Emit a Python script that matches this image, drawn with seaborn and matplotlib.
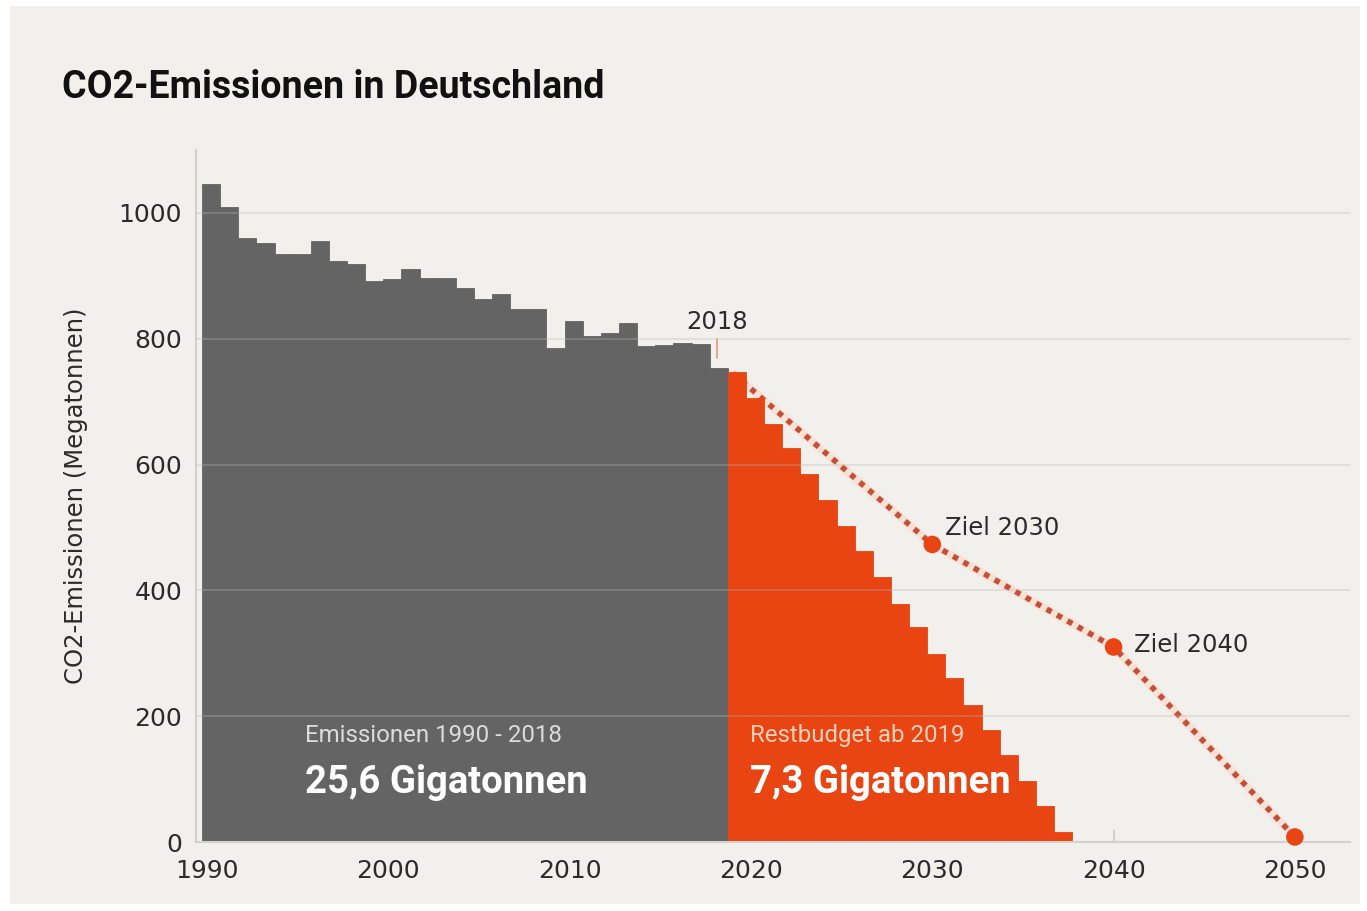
import numpy as np
import pandas as pd
import matplotlib
matplotlib.use("Agg")
import matplotlib.pyplot as plt
from matplotlib.patches import Rectangle
import seaborn as sns

# ---------------- data ----------------
years_hist = list(range(1990, 2019))
emis_hist = [1046, 1010, 960, 952, 935, 935, 955, 924, 919, 892,
             895, 911, 896, 896, 881, 863, 871, 847, 847, 785,
             828, 804, 809, 825, 788, 790, 793, 791, 753]
years_budget = list(range(2019, 2038))
emis_budget = [747, 705, 664, 626, 585, 543, 503, 463, 422, 379,
               341, 299, 260, 218, 178, 138, 97, 57, 16]
target_years = [2019, 2030, 2040, 2050]
target_values = [745, 473, 310, 8]
target_labels = ["", "Ziel 2030", "Ziel 2040", ""]
xtick_years = [1990, 2000, 2010, 2020, 2030, 2040, 2050]
ytick_values = [0, 200, 400, 600, 800, 1000]
title = "CO2-Emissionen in Deutschland"
ylabel = "CO2-Emissionen (Megatonnen)"
hist_small, hist_big = "Emissionen 1990 - 2018", "25,6 Gigatonnen"
budget_small, budget_big = "Restbudget ab 2019", "7,3 Gigatonnen"
marker_year = 2018

# ---------------- style ----------------
BG = "#f1f0ec"
GRAY = "#646464"
ORANGE = "#e84513"
DOT = "#c44f3b"
HALO = "#f9e1d4"
TXT = "#2b2b2b"
COND = ["Roboto", "DejaVu Sans"]
REG = ["DejaVu Sans"]

sns.set_theme(style="white")
plt.rcParams["font.family"] = REG

fig = plt.figure(figsize=(13.67, 9.11), dpi=100, facecolor="white")
fig.patches.append(Rectangle((10 / 1367, 7 / 911), 1350 / 1367, 898 / 911,
                             transform=fig.transFigure, facecolor=BG,
                             edgecolor="none", zorder=-10))
ax = fig.add_axes([196 / 1367, (911 - 842) / 911, 1154 / 1367, 692 / 911])
ax.set_facecolor("none")

df = pd.DataFrame({
    "year": years_hist + years_budget,
    "value": emis_hist + emis_budget,
    "group": ["hist"] * len(years_hist) + ["budget"] * len(years_budget),
})
df["xc"] = df["year"] + 0.22

sns.barplot(data=df, x="xc", y="value", hue="group",
            palette={"hist": GRAY, "budget": ORANGE},
            native_scale=True, width=1.0, dodge=False, saturation=1,
            legend=False, linewidth=0, ax=ax, zorder=1)
for p in ax.patches:
    p.set_edgecolor(p.get_facecolor())
    p.set_linewidth(0.6)

# gridlines on top of bars
for v in ytick_values[1:]:
    ax.axhline(v, color="#b8b8b8", alpha=0.3, lw=1.4, zorder=1.5)

# target path (behind bars)
sns.lineplot(x=target_years, y=target_values, ax=ax, color=HALO, lw=6,
             zorder=0.4, solid_capstyle="round")
sns.lineplot(x=target_years, y=target_values, ax=ax, color=DOT, lw=4.0,
             linestyle=(0, (1.0, 1.15)), zorder=0.5)
ax.scatter(target_years[1:], target_values[1:], s=160, color=ORANGE,
           edgecolor="none", zorder=4, clip_on=False)
for xv, yv, lab, off in zip(target_years, target_values, target_labels,
                            [(0, 0), (13, 16), (20, 2), (0, 0)]):
    if lab:
        ax.annotate(lab, (xv, yv), xytext=off, textcoords="offset pixels",
                    ha="left", va="center", fontsize=17.5, color=TXT)

# 2018 marker
ax.plot([marker_year + 0.15, marker_year + 0.15], [770, 800], color="#e9a48e",
        lw=1.4, zorder=3)
ax.text(marker_year + 0.15, 826, str(marker_year), ha="center", va="center",
        fontsize=17.5, color=TXT)

# in-bar annotations
ax.text(1995.4, 169, hist_small, ha="left", va="center", fontsize=17.3,
        color="#dcdcdc", family=COND)
ax.text(1995.4, 94, hist_big, ha="left", va="center", fontsize=27.5,
        color="white", family=COND, fontweight="bold")
ax.text(2019.95, 169, budget_small, ha="left", va="center", fontsize=17.3,
        color="#fbd0b8", family=COND)
ax.text(2019.95, 94, budget_big, ha="left", va="center", fontsize=27.5,
        color="white", family=COND, fontweight="bold")

# axes
ax.set_xlim(1989.39, 2053.04)
ax.set_ylim(0, 1100)
ax.set_xticks(xtick_years)
ax.set_xticklabels([str(y) for y in xtick_years])
ax.set_yticks(ytick_values)
ax.set_yticklabels([str(v) for v in ytick_values])
ax.tick_params(axis="x", direction="in", length=9, width=1.4,
               color=(0.72, 0.72, 0.72, 0.6), pad=12, labelsize=18,
               labelcolor=TXT, bottom=True)
ax.tick_params(axis="y", length=0, pad=10, labelsize=18, labelcolor=TXT)
ax.set_xlabel("")
ax.set_ylabel(ylabel, fontsize=17.5, color=TXT)
ax.yaxis.set_label_coords(-0.094, 0.5)
sns.despine(ax=ax, top=True, right=True)
for s in ("left", "bottom"):
    ax.spines[s].set_color("#d2d1cc")
    ax.spines[s].set_linewidth(1.5)
    ax.spines[s].set_zorder(2)

fig.text(62 / 1367, 1 - 87 / 911, title, ha="left", va="center",
         fontsize=27, fontweight="bold", color="#111111", family=COND)

fig.savefig("out.png", dpi=100, facecolor="white")
